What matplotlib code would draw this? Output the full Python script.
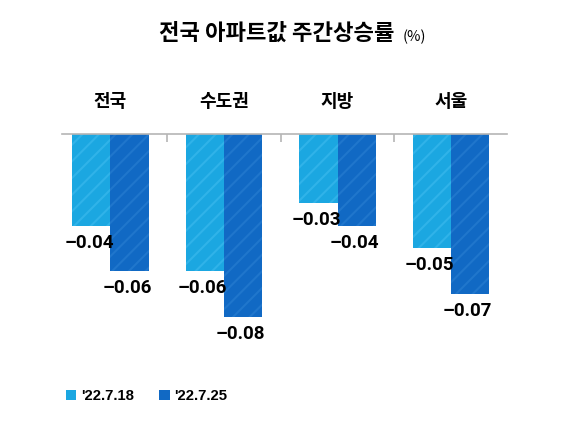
import numpy as np
import matplotlib.pyplot as plt
from matplotlib.patches import Patch

regions = ['전국', '수도권', '지방', '서울']
week1 = [-0.04, -0.06, -0.03, -0.05]
week2 = [-0.06, -0.08, -0.04, -0.07]
week_labels = ["'22.7.18", "'22.7.25"]

c_light, h_light = '#1ba7e1', '#30b3e9'
c_dark, h_dark = '#1169c4', '#2076cc'

kr = ['Noto Sans CJK KR', 'DejaVu Sans']
num = ['Roboto', 'DejaVu Sans']

plt.rcParams['hatch.linewidth'] = 1.5

fig = plt.figure(figsize=(5.72, 4.40), dpi=100)
ax = fig.add_axes([62 / 572, 0.175, 445 / 572, 0.5205])

x = np.arange(len(regions))
w = 0.335
ax.bar(x - w / 2, week1, w, color=c_light, edgecolor=h_light, hatch='//', linewidth=0)
ax.bar(x + w / 2, week2, w, color=c_dark, edgecolor=h_dark, hatch='//', linewidth=0)

for i in range(len(regions)):
    ax.text(x[i] - w / 2 - 0.02, week1[i] - 0.0074, f'{week1[i]:.2f}'.replace('-', '\u2013'),
            ha='center', va='center', fontsize=13.5, fontweight='bold', family=num)
    ax.text(x[i] + w / 2 - 0.02, week2[i] - 0.0074, f'{week2[i]:.2f}'.replace('-', '\u2013'),
            ha='center', va='center', fontsize=13.5, fontweight='bold', family=num)
    ax.text(x[i], 0.014, regions[i], ha='center', va='center', fontsize=13,
            fontweight='bold', family=kr, clip_on=False)

ax.set_xlim(-0.427, 3.493)
ax.set_ylim(-0.1, 0)
for s in ['left', 'right', 'bottom']:
    ax.spines[s].set_visible(False)
ax.spines['top'].set_color('#b5b5b5')
ax.spines['top'].set_linewidth(1.2)
ax.xaxis.tick_top()
ax.set_xticks([0.5, 1.5, 2.5])
ax.set_xticklabels([])
ax.tick_params(axis='x', direction='in', length=6, color='#b5b5b5', width=1.2)
ax.set_yticks([])

fig.text(0.483, 0.925, '전국 아파트값 주간상승률', ha='center', va='center',
         fontsize=16, fontweight='bold', family=kr)
fig.text(0.704, 0.916, '(%)', ha='left', va='center', fontsize=10.5, family=kr)

handles = [Patch(facecolor=c_light, label=week_labels[0]),
           Patch(facecolor=c_dark, label=week_labels[1])]
fig.legend(handles=handles, loc='center left', bbox_to_anchor=(0.092, 0.1), ncol=2,
           frameon=False, handlelength=0.7, handleheight=0.7, handletextpad=0.3,
           columnspacing=1.7, prop={'family': ['Liberation Sans', 'DejaVu Sans'],
                                    'weight': 'bold', 'size': 10.7})

fig.savefig('out.png', dpi=100, facecolor='white')
